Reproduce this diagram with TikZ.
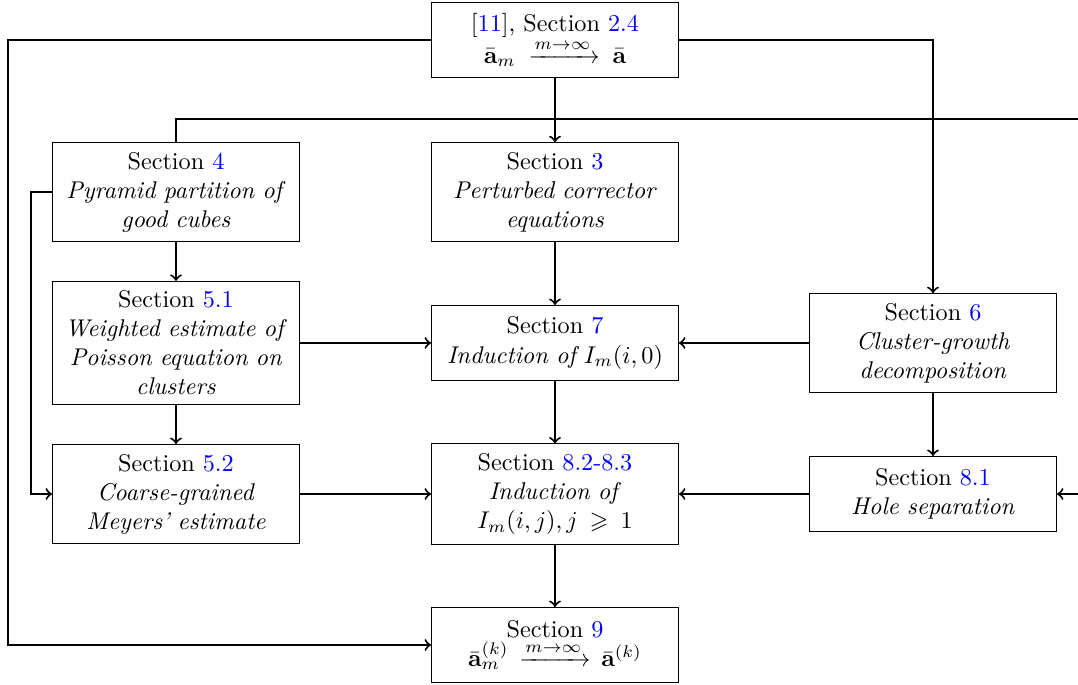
\documentclass[tikz,border=0pt]{standalone}
\usepackage{amsmath,amssymb}
\usepackage{xcolor}
\usetikzlibrary{calc}
\newcommand{\sref}[1]{\textcolor{blue}{#1}}
\begin{document}
\begin{tikzpicture}[x=0.4132pt,y=-0.4132pt,
  box/.style={draw,line width=0.4pt,text width=95.4pt,align=center,inner xsep=0.333em,inner ysep=3.9pt,minimum height=31pt,anchor=center},
  conn/.style={->,line width=0.83pt},
  link/.style={line width=0.83pt}]
\useasboundingbox (0,0) rectangle (1078,684);
\node[box] (top) at (555,40) {[\sref{11}], Section \sref{2.4}\\ $\bar{\mathbf{a}}_m \xrightarrow{m\to\infty} \bar{\mathbf{a}}$};
\node[box] (s4) at (176,192) {Section \sref{4}\\ \textit{Pyramid partition of}\\ \textit{good cubes}};
\node[box] (s3) at (555,192) {Section \sref{3}\\ \textit{Perturbed corrector}\\ \textit{equations}};
\node[box] (s51) at (176,343) {Section \sref{5.1}\\ \textit{Weighted estimate of}\\ \textit{Poisson equation on}\\ \textit{clusters}};
\node[box] (s7) at (555,343) {Section \sref{7}\\ \textit{Induction of $I_m(i,0)$}};
\node[box] (s6) at (933,343) {Section \sref{6}\\ \textit{Cluster-growth}\\ \textit{decomposition}};
\node[box] (s52) at (176,494) {Section \sref{5.2}\\ \textit{Coarse-grained}\\ \textit{Meyers' estimate}};
\node[box] (s823) at (555,494) {Section \sref{8.2-8.3}\\ \textit{Induction of}\\ $I_m(i,j), j\geqslant 1$};
\node[box] (s81) at (933,494) {Section \sref{8.1}\\ \textit{Hole separation}};
\node[box] (s9) at (555,645) {Section \sref{9}\\ $\bar{\mathbf{a}}_m^{(k)} \xrightarrow{m\to\infty} \bar{\mathbf{a}}^{(k)}$};
\coordinate (L1) at (8,40);
\coordinate (L2) at (31,192);
\coordinate (R1) at (1078,119);
\coordinate (R2) at (1078,494);
\draw[conn] (top) -- (s3);
\draw[conn] (top.west) -- (L1) |- (s9.west);
\draw[conn] (top.east) -| (s6.north);
\draw[link] (s4.north) |- (R1);
\draw[conn] (s4.west) -- (L2) |- (s52.west);
\draw[conn] (s4) -- (s51);
\draw[conn] (s51) -- (s52);
\draw[conn] (s51.east) -- (s51.east -| s7.west);
\draw[conn] (s6.west) -- (s6.west -| s7.east);
\draw[conn] (s3) -- (s7);
\draw[conn] (s7) -- (s823);
\draw[conn] (s52) -- (s823);
\draw[conn] (s81) -- (s823);
\draw[conn] (s6) -- (s81);
\draw[conn] (R2) -- (s81.east);
\draw[conn] (s823) -- (s9);
\end{tikzpicture}
\end{document}
